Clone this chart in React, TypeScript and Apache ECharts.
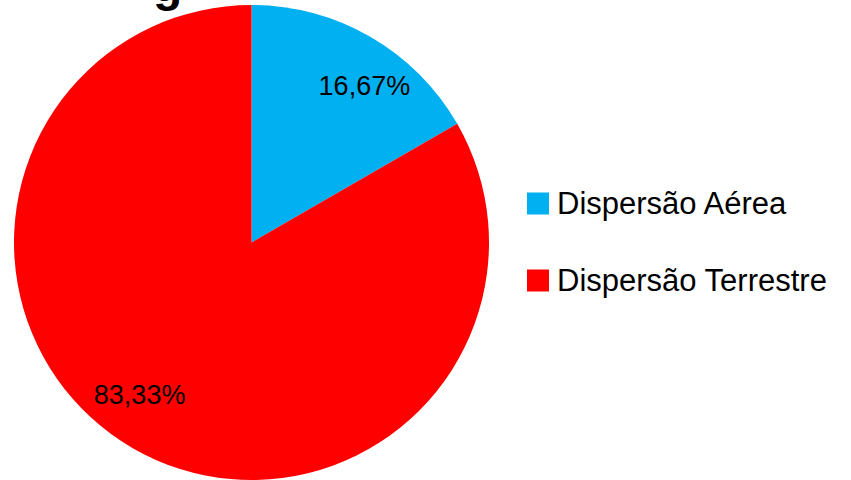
import React, { useEffect, useRef } from "react";
import * as echarts from "echarts";

const categories = ["Dispersão Aérea", "Dispersão Terrestre"];
const values = [16.67, 83.33];
const colors = ["#00B0F0", "#FF0000"];

export default function App() {
  const ref = useRef<HTMLDivElement>(null);
  useEffect(() => {
    document.body.style.margin = "0";
    const chart = echarts.init(ref.current!, undefined, { renderer: "svg" });
    const labelOffsets = [
      { dx: 52, dy: -51 },
      { dx: -51, dy: 47 },
    ];
    chart.setOption({
      animation: false,
      graphic: [
        {
          type: "text",
          x: 153,
          y: -16,
          style: {
            text: "g",
            font: "bold 48px 'Liberation Sans', Arial, sans-serif",
            fill: "#000",
            verticalAlign: "middle",
            align: "left",
          },
        },
      ],
      legend: {
        orient: "vertical",
        left: 522,
        top: 183,
        itemWidth: 22,
        itemHeight: 22,
        itemGap: 46,
        icon: "rect",
        textStyle: {
          fontFamily: "'Liberation Sans', Arial, sans-serif",
          fontSize: 31,
          lineHeight: 30,
          color: "#000",
          padding: [0, 0, 0, 3],
        },
        data: categories,
      },
      series: [
        {
          type: "pie",
          center: [251.5, 242.5],
          radius: 237.5,
          startAngle: 90,
          clockwise: true,
          silent: true,
          label: {
            show: true,
            position: "inside",
            fontFamily: "'Liberation Sans', Arial, sans-serif",
            fontSize: 27,
            color: "#000",
            formatter: (p: any) => p.value.toFixed(2).replace(".", ",") + "%",
          },
          labelLine: { show: false },
          labelLayout: (params: any) => labelOffsets[params.dataIndex],
          data: categories.map((name, i) => ({
            name,
            value: values[i],
            itemStyle: { color: colors[i] },
          })),
        },
      ],
    });
    return () => chart.dispose();
  }, []);
  return <div ref={ref} style={{ width: 851, height: 480 }} />;
}
